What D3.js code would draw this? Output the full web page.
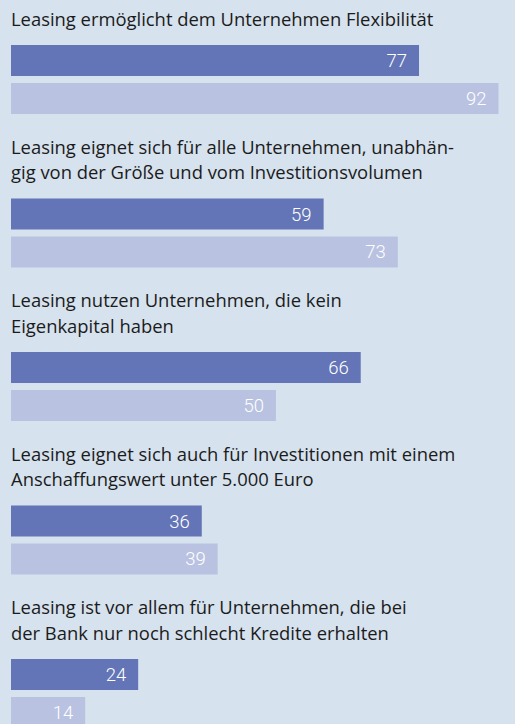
<!DOCTYPE html>
<html>
<head>
<meta charset="utf-8">
<script src="https://cdn.jsdelivr.net/npm/d3@7"></script>
<style>
  html, body { margin: 0; padding: 0; background: #d6e2ee; }
  svg { display: block; }
</style>
</head>
<body>
<script>
// statements (title lines) and the two series of percentages
var statements = [
  ["Leasing ermöglicht dem Unternehmen Flexibilität"],
  ["Leasing eignet sich für alle Unternehmen, unabhän-", "gig von der Größe und vom Investitionsvolumen"],
  ["Leasing nutzen Unternehmen, die kein", "Eigenkapital haben"],
  ["Leasing eignet sich auch für Investitionen mit einem", "Anschaffungswert unter 5.000 Euro"],
  ["Leasing ist vor allem für Unternehmen, die bei", "der Bank nur noch schlecht Kredite erhalten"]
];
var seriesA = [77, 59, 66, 36, 24];
var seriesB = [92, 73, 50, 39, 14];
var seriesNames = ["a", "b"];

function draw_chart(width, height){
  var svg = d3.select("body")
    .append("svg")
    .attr("width", width)
    .attr("height", height);

  svg.append("rect")
    .attr("width", width)
    .attr("height", height)
    .attr("fill", "#d6e2ee");

  var x = d3.scaleLinear()
    .domain([0, 92])
    .range([11, 498.5]);

  // top of each bar block
  var y = d3.scaleLinear()
    .domain([0, 4])
    .range([45, 659]);

  var inner = d3.scaleBand()
    .domain(seriesNames)
    .range([0, 69])
    .paddingInner(0.184);

  var colors = { a: "#6375b7", b: "#bac2e1" };

  var data = statements.map(function(lines, i){
    return { lines: lines, values: [
      { key: "a", v: seriesA[i] },
      { key: "b", v: seriesB[i] }
    ]};
  });

  var group = svg.selectAll(".group")
    .data(data)
    .enter()
    .append("g")
      .attr("class", "group")
      .attr("transform", function(d, i){ return "translate(0," + y(i) + ")"; });

  group.selectAll(".title")
    .data(function(d){ return d.lines; })
    .enter()
    .append("text")
      .attr("class", "title")
      .attr("x", 11)
      .attr("y", function(d, j, nodes){ return -19.5 - (nodes.length - 1 - j) * 25.5; })
      .attr("font-family", "'Open Sans', Roboto, sans-serif")
      .attr("font-size", 18.4)
      .attr("fill", "#1b1b1b")
      .text(function(d){ return d; });

  var bar = group.selectAll(".bar")
    .data(function(d){ return d.values; })
    .enter()
    .append("g")
      .attr("class", "bar");

  bar.append("rect")
    .attr("x", x(0))
    .attr("y", function(d){ return inner(d.key); })
    .attr("width", function(d){ return x(d.v) - x(0); })
    .attr("height", inner.bandwidth())
    .attr("fill", function(d){ return colors[d.key]; });

  bar.append("text")
    .attr("x", function(d){ return x(d.v) - 12; })
    .attr("y", function(d){ return inner(d.key) + inner.bandwidth() / 2 + 6.5; })
    .attr("text-anchor", "end")
    .attr("font-family", "Roboto, 'Liberation Sans', sans-serif")
    .attr("font-weight", 300)
    .attr("font-size", 18.5)
    .attr("fill", "#ffffff")
    .text(function(d){ return d.v; });
}

draw_chart(515, 724);
</script>
</body>
</html>
